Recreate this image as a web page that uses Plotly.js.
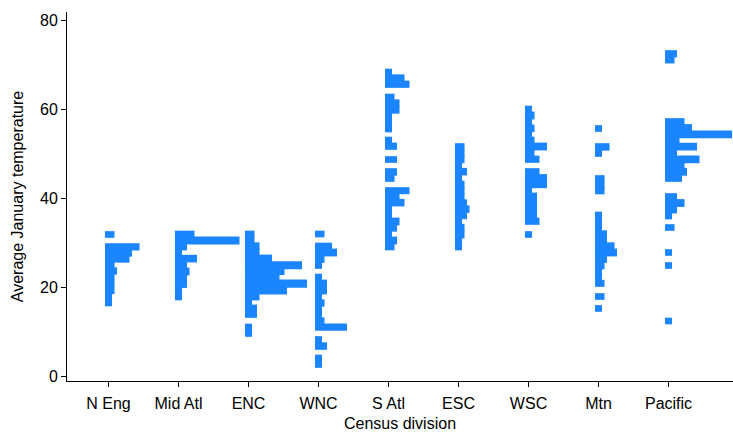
<!DOCTYPE html>
<html><head><meta charset="utf-8">
<script src="https://cdn.plot.ly/plotly-3.0.1.min.js"></script>
<style>html,body{margin:0;padding:0;background:#fff}#chart{width:733px;height:432px}</style>
</head><body><div id="chart"></div>
<script>
// Census divisions (x categories)
const divisions = ["N Eng","Mid Atl","ENC","WNC","S Atl","ESC","WSC","Mtn","Pacific"];

// Average January temperature bins (y) and number of stacked cities per bin
const nEngTemp  = [31.96,29.26,27.80,26.45,25.10,23.75,22.40,21.06,19.48,17.91,16.56];
const nEngCount = [2,12,9,8,2,3,2,2,2,1,1];

const midAtlTemp  = [32.07,30.61,29.15,27.91,26.56,25.10,23.64,22.18,20.83,19.37,17.91];
const midAtlCount = [6,24,3,1,7,3,4,3,3,1,1];

const encTemp  = [32.07,30.72,29.37,28.02,26.56,24.99,23.64,22.40,20.94,19.37,17.91,16.67,15.44,13.98,11.17,9.71];
const encCount = [2,2,4,4,9,21,14,12,23,15,4,1,3,3,1,1];

const wncTemp  = [32.07,29.37,27.91,26.45,24.99,22.40,20.94,19.37,17.91,16.56,15.21,13.87,12.52,11.06,8.36,6.79,4.20,2.74];
const wncCount = [2,5,7,2,1,1,3,3,1,2,1,1,2,11,1,3,1,1];

const sAtlTemp  = [68.47,67.12,65.66,62.85,61.50,60.04,58.47,57.01,55.66,53.19,51.73,48.81,46.11,44.54,41.84,40.49,39.15,37.69,36.34,34.88,33.42,32.07,30.61,29.15];
const sAtlCount = [1,6,8,2,4,4,1,1,1,1,3,3,3,2,8,4,6,1,1,4,3,1,3,2];

const escTemp  = [51.73,50.27,48.81,47.46,46.11,44.65,43.19,41.73,40.38,39.03,37.69,36.22,34.88,33.53,31.96,30.49,29.15];
const escCount = [2,2,2,1,3,1,2,2,2,3,4,3,1,2,2,1,1];

const wscTemp  = [60.16,58.70,57.24,55.78,54.43,53.19,51.73,50.27,48.81,46.11,44.65,43.19,41.84,40.61,39.15,37.69,36.34,34.88,31.96];
const wscCount = [1,2,1,2,1,2,7,2,4,4,7,7,1,3,3,3,3,4,1];

const mtnTemp  = [55.78,51.73,50.16,44.54,43.08,41.73,36.34,34.88,33.42,32.07,30.72,29.37,27.91,26.45,24.99,23.53,22.29,20.94,18.02,15.33];
const mtnCount = [1,4,1,2,2,2,1,1,1,3,3,6,7,3,2,1,1,2,2,1];

const pacTemp  = [72.63,71.15,57.35,55.89,54.43,53.08,51.73,50.27,48.81,47.46,46.11,44.54,40.49,39.03,37.57,36.11,33.53,27.91,24.99,12.52];
const pacCount = [3,2,6,9,25,4,11,3,12,6,7,5,3,6,3,1,2,1,1,1];

const yTicks = [0,20,40,60,80];

const groups = [
  [nEngTemp,nEngCount],[midAtlTemp,midAtlCount],[encTemp,encCount],[wncTemp,wncCount],
  [sAtlTemp,sAtlCount],[escTemp,escCount],[wscTemp,wscCount],[mtnTemp,mtnCount],[pacTemp,pacCount]
];

// stacked square markers: first marker width, each extra marker adds a step
const barColor = '#1a85ff';
const markerW = 0.1, stackStep = 2.5/70;
const halfH = 0.75, touchGap = 1.75, overlap = 0.15;

// half-heights that make neighbouring bins touch (avoid hairline seams)
function halves(t) {
  const lo = [], hi = [];
  t.forEach((v, k) => {
    let down = halfH, up = halfH;
    t.forEach((w, j) => {
      if (j === k) return;
      const d = w - v;
      if (d > 0 && d < touchGap) up = Math.max(up, d / 2 + overlap);
      if (d < 0 && -d < touchGap) down = Math.max(down, -d / 2 + overlap);
    });
    lo.push(down); hi.push(up);
  });
  return [lo, hi];
}

const traces = groups.map((g, i) => {
  const [lo, hi] = halves(g[0]);
  return {
    type: 'bar',
    orientation: 'h',
    y: g[0],
    x: g[1].map(n => markerW + (n - 1) * stackStep),
    base: g[0].map(() => (i + 1) - markerW / 2),
    width: lo.map((l, k) => l + hi[k]),
    offset: lo.map(l => -l),
    marker: {color: barColor, line: {width: 0}},
    hoverinfo: 'skip'
  };
});

const font = {family: 'Liberation Sans, Arial, sans-serif', size: 16, color: '#000'};

const layout = {
  width: 733, height: 432,
  margin: {l: 67, r: 0, t: 12, b: 51},
  paper_bgcolor: '#fff', plot_bgcolor: '#fff',
  showlegend: false, barmode: 'overlay',
  font: font,
  xaxis: {
    range: [0.407, 9.921],
    tickmode: 'array', tickvals: divisions.map((d, i) => i + 1), ticktext: divisions,
    ticks: 'outside', ticklen: 5, tickcolor: '#000', tickwidth: 1,
    showline: true, linecolor: '#000', linewidth: 1,
    showgrid: false, zeroline: false,
    tickfont: font, ticklabelstandoff: 3,
    title: {text: 'Census division', font: font, standoff: 8}
  },
  yaxis: {
    range: [-0.97, 81.96],
    tickmode: 'array', tickvals: yTicks,
    ticks: 'outside', ticklen: 5, tickcolor: '#000', tickwidth: 1,
    showline: true, linecolor: '#000', linewidth: 1,
    showgrid: false, zeroline: false,
    tickfont: font,
    title: {text: 'Average January temperature', font: font, standoff: 12}
  }
};

Plotly.newPlot('chart', traces, layout, {staticPlot: true, displayModeBar: false});
</script>
</body></html>
